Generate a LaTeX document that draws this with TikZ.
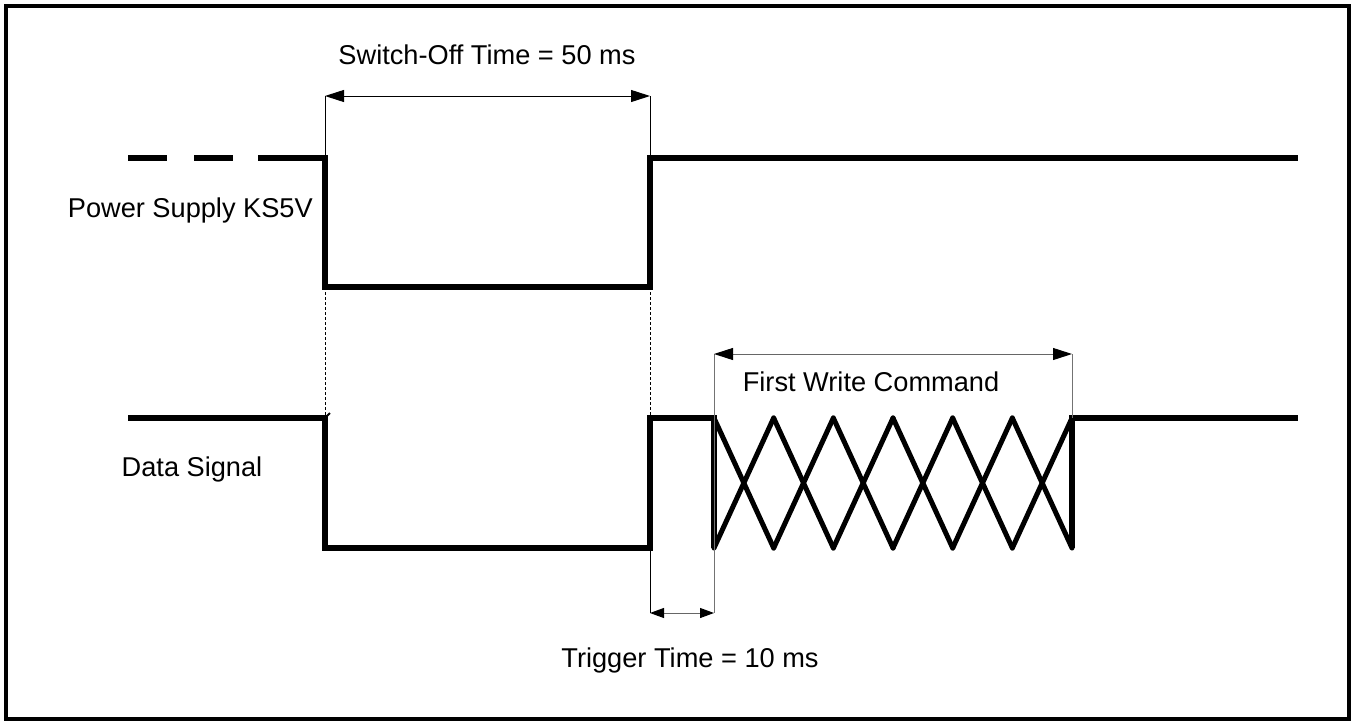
\documentclass[tikz,border=0pt]{standalone}
\usepackage{fontspec}
\setmainfont{Liberation Sans}
\usetikzlibrary{arrows.meta,positioning,calc}
\tikzset{
    signal/.style={
        line width=5.2pt,
        line cap=butt,
        line join=miter
    },
    bus/.style={
        line width=5pt,
        line join=round,
        line cap=round
    },
    dim/.style={
        {Triangle[length=19pt,width=12pt,color=black]}-{Triangle[length=19pt,width=12pt,color=black]},
        line width=1pt
    },
    dimsmall/.style={
        {Triangle[length=14pt,width=10pt,color=black]}-{Triangle[length=14pt,width=10pt,color=black]},
        line width=1pt,
        draw=black!60
    },
    extline/.style={line width=1pt},
    greyline/.style={line width=1pt, draw=black!55},
    guide/.style={line width=1pt, dash pattern=on 3pt off 2pt},
    txt/.style={font=\fontsize{27.2}{32}\selectfont, inner sep=0pt}
}

\begin{document}
\begin{tikzpicture}[x=1pt,y=-1pt]
        \useasboundingbox (0,0) rectangle (1352,723);
        \draw[line width=3.5pt] (6,6) rectangle (1349,719);

        \coordinate (pfall) at (325,158);
        \coordinate (plow) at (325,287);
        \coordinate (prise) at (650,287);
        \coordinate (phigh) at (650,158);
        \coordinate (dfall) at (325,418);
        \coordinate (dlow) at (325,548);
        \coordinate (drise) at (650,548);
        \coordinate (dhigh) at (650,418);
        \coordinate (wstart) at (714,418);
        \coordinate (wend) at (1072,418);

        \draw[signal, dash pattern=on 39pt off 27pt] (128,158) -- (235,158);
        \draw[signal] (258,158) -- (pfall) -- (plow) -- (prise) -- (phigh) -- (1298,158);

        \draw[signal] (128,418) -- (dfall) -- (dlow) -- (drise) -- (dhigh) -- (wstart) -- (714,548);
        \draw[line width=2pt] (dfall) -- ++(5,-5);
        \foreach \i in {0,...,5} {
            \draw[bus] ({714+59.667*\i},418) -- ({714+59.667*(\i+1)},548);
            \draw[bus] ({714+59.667*\i},548) -- ({714+59.667*(\i+1)},418);
        }
        \draw[signal] (1072,548) -- (wend) -- (1298,418);

        \draw[guide] (plow) -- (dfall);
        \draw[guide] (prise) -- (dhigh);

        \coordinate (swl) at (325,96);
        \coordinate (swr) at (650,96);
        \draw[extline] (swl) -- ($(pfall)+(0,-2)$);
        \draw[extline] (swr) -- ($(phigh)+(0,-2)$);
        \draw[dim] (swl) -- (swr);
        \node[txt] (swtext) at (487,55) {Switch-Off Time = 50 ms};

        \coordinate (fwl) at (714,354);
        \coordinate (fwr) at (1072,354);
        \coordinate (trl) at (650,613);
        \coordinate (trr) at (714,613);
        \draw[greyline] (fwl) -- (trr);
        \draw[greyline] (fwr) -- (wend);
        \draw[dim, draw=black!60] (fwl) -- (fwr);
        \node[txt] (fwtext) at (871,382) {First Write Command};

        \draw[extline] (drise) -- (trl);
        \draw[dimsmall] (trl) -- (trr);
        \node[txt] (trtext) at (690,660) {Trigger Time = 10 ms};

        \node[txt, anchor=east] (pslabel) at (313,210) {Power Supply KS5V};
        \node[txt] (dslabel) at (192,469) {Data Signal};
    \end{tikzpicture}
\end{document}
